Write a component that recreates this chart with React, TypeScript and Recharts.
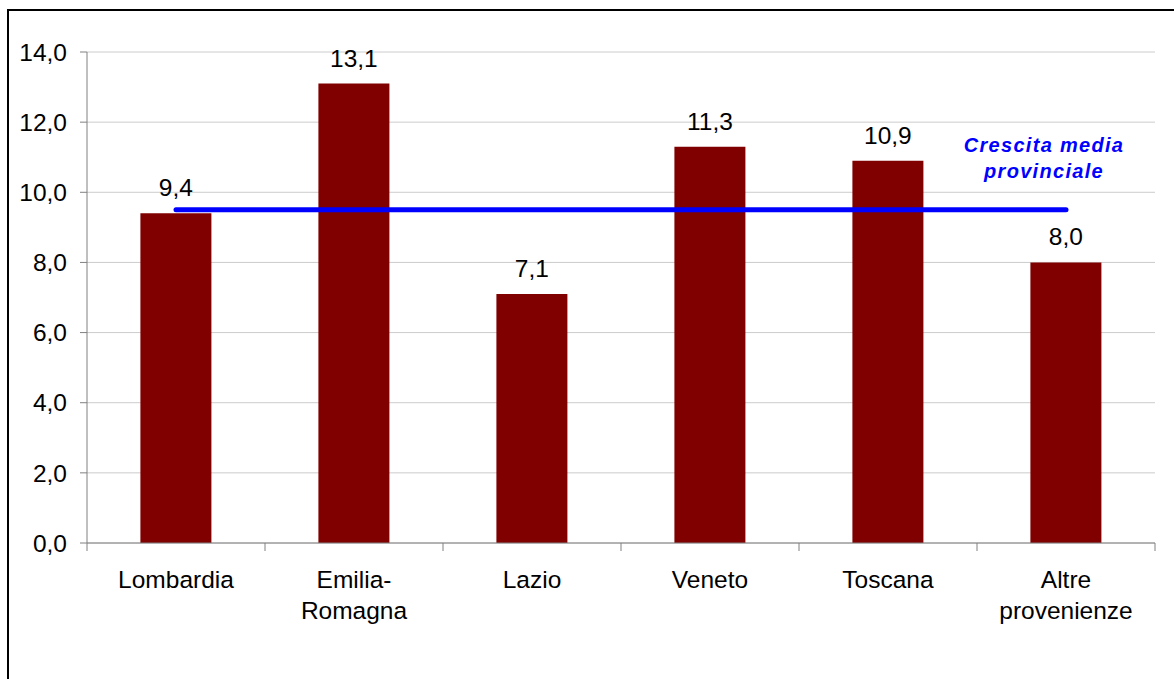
import {
  ComposedChart,
  Bar,
  Line,
  XAxis,
  YAxis,
  CartesianGrid,
  LabelList,
} from "recharts";

// Dati
const categories = [
  "Lombardia",
  "Emilia-Romagna",
  "Lazio",
  "Veneto",
  "Toscana",
  "Altre provenienze",
];
const tickLabels = [
  ["Lombardia"],
  ["Emilia-", "Romagna"],
  ["Lazio"],
  ["Veneto"],
  ["Toscana"],
  ["Altre", "provenienze"],
];
const crescita = [9.4, 13.1, 7.1, 11.3, 10.9, 8.0];
const mediaProvinciale = 9.5;
const mediaLabel = ["Crescita media", "provinciale"];
const yTicks = [0, 2, 4, 6, 8, 10, 12, 14];

const data = categories.map((name, i) => ({
  name,
  crescita: crescita[i],
  media: mediaProvinciale,
}));

const CHART_W = 1165;
const CHART_H = 668;
const MARGIN = { top: 41, right: 19, left: 0, bottom: 76 };
const Y_W = 78;
const X_H = 60;
const STEP = (CHART_W - MARGIN.left - MARGIN.right - Y_W) / categories.length;
const FONT = 24.5;

const fmt = (v: number) => v.toFixed(1).replace(".", ",");

const XTick = (props: any) => {
  const { x, y, payload } = props;
  const idx = categories.indexOf(payload.value);
  const lines = tickLabels[idx] || [payload.value];
  const last = idx === categories.length - 1;
  return (
    <g>
      <line x1={x - STEP / 2} y1={y} x2={x - STEP / 2} y2={y + 8} stroke="#808080" />
      {last && (
        <line x1={x + STEP / 2} y1={y} x2={x + STEP / 2} y2={y + 8} stroke="#808080" />
      )}
      <text x={x} y={y + 45} textAnchor="middle" fontSize={FONT} fill="#000">
        {lines.map((l, i) => (
          <tspan key={i} x={x} dy={i === 0 ? 0 : 31}>
            {l}
          </tspan>
        ))}
      </text>
    </g>
  );
};

const renderMediaLabel = (props: any) => {
  const { x, y, index } = props;
  if (index !== categories.length - 1) return null;
  return (
    <text
      key="media-label"
      x={x - 22}
      textAnchor="middle"
      fill="#0000ff"
      fontSize={20}
      fontWeight="bold"
      fontStyle="italic"
      letterSpacing={1.3}
    >
      <tspan x={x - 22} y={y - 58}>
        {mediaLabel[0]}
      </tspan>
      <tspan x={x - 22} y={y - 32}>
        {mediaLabel[1]}
      </tspan>
    </text>
  );
};

const App = () => {
  return (
    <div
      style={{
        position: "absolute",
        left: 7,
        top: 9,
        width: CHART_W,
        height: CHART_H,
        borderLeft: "2px solid #000",
        borderTop: "2px solid #000",
        background: "#fff",
        fontFamily: "'Liberation Sans', Arial, sans-serif",
      }}
    >
      <ComposedChart width={CHART_W} height={CHART_H} data={data} margin={MARGIN} barCategoryGap="30%">
        <CartesianGrid vertical={false} stroke="#cccccc" />
        <XAxis
          dataKey="name"
          height={X_H}
          interval={0}
          stroke="#808080"
          tickLine={false}
          tickSize={0}
          tickMargin={0}
          tick={<XTick />}
        />
        <YAxis
          width={Y_W}
          domain={[0, 14]}
          ticks={yTicks}
          stroke="#808080"
          tickSize={7}
          tickMargin={13}
          tickFormatter={fmt}
          tick={{ fill: "#000", fontSize: FONT }}
        />
        <Bar dataKey="crescita" fill="#800000" isAnimationActive={false}>
          <LabelList
            dataKey="crescita"
            position="top"
            offset={17}
            formatter={(v: any) => fmt(Number(v))}
            fill="#000"
            fontSize={FONT}
          />
        </Bar>
        <Line
          dataKey="media"
          stroke="#0000ff"
          strokeWidth={5}
          strokeLinecap="round"
          dot={false}
          activeDot={false}
          isAnimationActive={false}
          label={renderMediaLabel}
        />
      </ComposedChart>
    </div>
  );
};

export default App;
